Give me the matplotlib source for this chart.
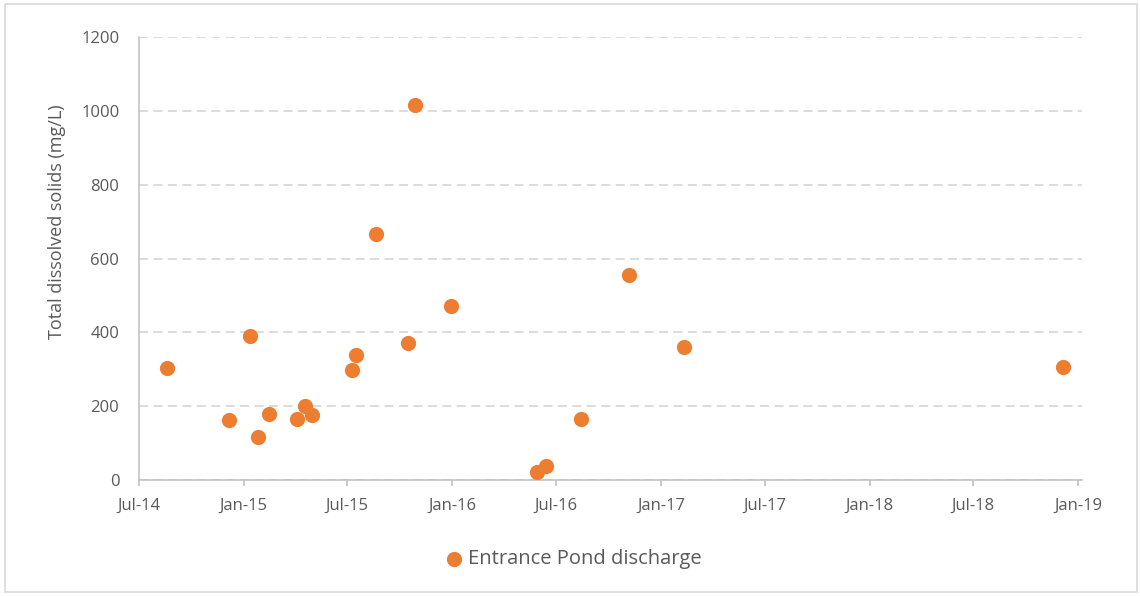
import matplotlib
matplotlib.use("Agg")
import matplotlib.pyplot as plt
import matplotlib.dates as mdates
import pandas as pd
from matplotlib.patches import Rectangle

plt.rcParams['font.family'] = ['Open Sans', 'DejaVu Sans']

# sample dates and total dissolved solids (mg/L)
dates = ['2014-08-19', '2014-12-06', '2015-01-12', '2015-01-26', '2015-02-14',
         '2015-04-04', '2015-04-18', '2015-05-01', '2015-07-10', '2015-07-17',
         '2015-08-20', '2015-10-15', '2015-10-28', '2015-12-30', '2016-05-28',
         '2016-06-13', '2016-08-13', '2016-11-05', '2017-02-09', '2018-12-05']
tds = [304, 162, 391, 116, 180,
       165, 200, 176, 297, 339,
       666, 370, 1017, 471, 22,
       39, 165, 555, 360, 307]
series_name = 'Entrance Pond discharge'

x = pd.to_datetime(dates)

fig = plt.figure(figsize=(11.4, 5.96), dpi=100)
ax = fig.add_axes([0.1217, 0.1946, 0.8275, 0.743])

orange = '#ED7D31'
grey_txt = '#595959'

ax.scatter(x, tds, s=120, color=orange, zorder=3, label=series_name, linewidths=0)

ax.set_ylim(0, 1200)
ax.set_yticks(range(0, 1201, 200))
ax.set_xlim(pd.Timestamp('2014-07-01'), pd.Timestamp('2019-01-08'))
ax.xaxis.set_major_locator(mdates.MonthLocator(bymonth=[1, 7]))
ax.xaxis.set_major_formatter(mdates.DateFormatter('%b-%y'))

ax.yaxis.grid(True, color='#D9D9D9', linestyle=(0, (5, 3)), linewidth=1.3)
ax.set_axisbelow(True)

for side in ['top', 'right']:
    ax.spines[side].set_visible(False)
for side in ['left', 'bottom']:
    ax.spines[side].set_color('#BFBFBF')
    ax.spines[side].set_linewidth(1.1)

ax.tick_params(axis='y', length=0, pad=14, labelsize=12, labelcolor=grey_txt)
ax.tick_params(axis='x', length=4, width=1.1, color='#BFBFBF', direction='out',
               pad=9, labelsize=12, labelcolor=grey_txt)

ax.set_ylabel('Total dissolved solids (mg/L)', fontsize=13, color=grey_txt)
ax.yaxis.set_label_coords(-0.077, 0.583)

leg = fig.legend(loc='center', bbox_to_anchor=(0.503, 0.062), frameon=False,
                 fontsize=14.5, handlelength=0.9, handletextpad=0.25,
                 labelcolor=grey_txt)

# light frame around the whole chart
fig.patches.append(Rectangle((0.004, 0.006), 0.993, 0.987, transform=fig.transFigure,
                             fill=False, edgecolor='#D9D9D9', linewidth=1.2))

fig.savefig('out.png', dpi=100)
